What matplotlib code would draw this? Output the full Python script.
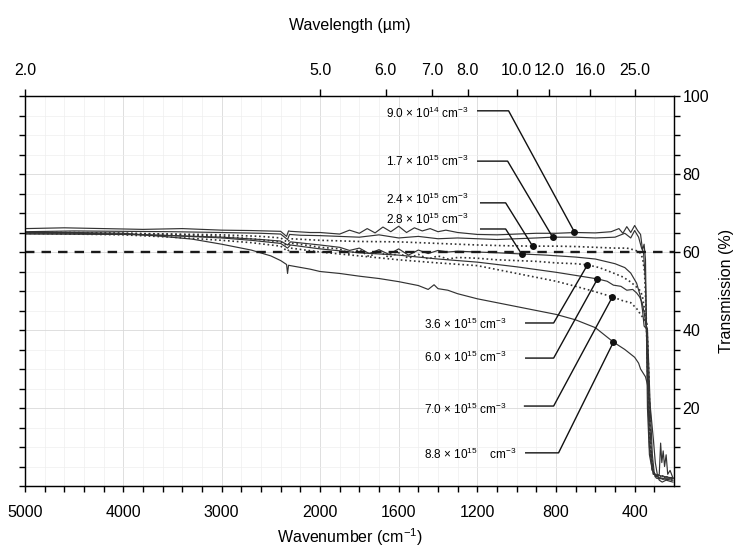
import numpy as np
import matplotlib
matplotlib.use("Agg")
import matplotlib.pyplot as plt

plt.rcParams['font.family'] = ['Liberation Sans', 'DejaVu Sans']
plt.rcParams['mathtext.fontset'] = 'custom'
plt.rcParams['mathtext.rm'] = 'Liberation Sans'
plt.rcParams['mathtext.it'] = 'Liberation Sans:italic'

# --- data (wavenumber cm-1, transmission %) ---
w_c1 = [5000, 4600, 4200, 3800, 3400, 3000, 2700, 2400, 2340, 2320, 2300, 2100, 2000, 1900, 1850, 1800,
        1760, 1720, 1680, 1640, 1600, 1560, 1520, 1480, 1440, 1400, 1360, 1300, 1200, 1100, 1000, 900,
        800, 700, 600, 520, 480, 460, 440, 420, 400, 385, 370, 360, 352, 345, 340, 335, 325, 310, 295,
        282, 275, 268, 262, 255, 248, 240, 232, 220, 205]
t_c1 = [66.0, 66.2, 66.0, 65.8, 66.0, 65.6, 65.5, 65.3, 64.0, 65.4, 65.3, 65.0, 65.0, 64.6, 65.6, 64.8,
        66.0, 64.9, 66.4, 65.2, 66.6, 65.0, 66.2, 65.4, 66.0, 65.2, 65.6, 65.0, 64.5, 64.4, 64.6, 64.8,
        64.8, 65.0, 64.9, 65.2, 66.0, 64.8, 66.5, 65.0, 66.8, 65.5, 64.5, 60.5, 62.0, 58.0, 40.0, 20.0,
        8.0, 4.0, 3.0, 2.5, 3.0, 11.0, 6.0, 9.0, 5.0, 8.0, 3.0, 4.0, 2.0]

w_c2 = [5000, 4500, 4000, 3500, 3000, 2600, 2400, 2330, 2310, 2200, 2000, 1800, 1700, 1600, 1500, 1400,
        1300, 1200, 1100, 1000, 900, 817, 700, 600, 500, 450, 420, 400, 380, 365, 355, 345, 335, 325,
        310, 290, 270, 250, 230, 205]
t_c2 = [65.2, 65.4, 65.3, 65.2, 65.0, 64.8, 64.6, 63.2, 64.5, 64.3, 64.2, 63.8, 64.4, 63.6, 64.0, 63.4,
        63.6, 63.4, 63.2, 63.4, 63.6, 63.8, 63.8, 63.6, 63.8, 64.8, 63.6, 65.5, 63.8, 61.0, 60.0, 52.0,
        28.0, 10.0, 4.0, 2.5, 2.0, 2.0, 2.0, 2.0]

w_c3 = [5000, 4000, 3500, 3000, 2600, 2400, 2330, 2300, 2000, 1800, 1600, 1400, 1200, 1050, 919, 800,
        700, 600, 500, 440, 400, 375, 360, 350, 342, 335, 325, 310, 290, 205]
t_c3 = [64.8, 64.8, 64.6, 64.4, 64.0, 63.6, 62.5, 63.4, 63.0, 62.7, 62.6, 62.2, 61.8, 61.6, 61.5, 61.5,
        61.4, 61.2, 61.0, 61.0, 60.5, 60.0, 58.5, 55.0, 45.0, 30.0, 12.0, 4.0, 2.0, 1.5]

w_c4 = [5000, 4000, 3500, 3000, 2600, 2400, 2330, 2300, 2000, 1900, 1850, 1800, 1750, 1700, 1650, 1600,
        1550, 1500, 1450, 1400, 1350, 1300, 1200, 1100, 975, 850, 700, 600, 500, 450, 420, 390, 370,
        360, 352, 345, 335, 320, 310, 300, 290, 205]
t_c4 = [64.6, 64.5, 64.2, 63.8, 63.2, 62.8, 61.8, 62.6, 61.8, 61.2, 60.4, 61.0, 59.6, 60.6, 59.4, 60.8,
        59.2, 60.5, 59.6, 60.4, 60.0, 60.2, 60.0, 59.8, 59.5, 59.2, 58.7, 58.2, 57.0, 56.0, 54.6, 52.0,
        48.5, 45.0, 41.0, 40.6, 40.2, 19.0, 8.0, 3.0, 2.0, 1.5]

w_c5 = [5000, 4500, 4000, 3500, 3000, 2700, 2400, 2330, 2300, 2100, 2000, 1900, 1850, 1800, 1750, 1700,
        1650, 1600, 1550, 1500, 1450, 1400, 1350, 1300, 1200, 1100, 1000, 900, 800, 700, 640, 580, 508,
        460, 420, 390, 370, 360, 352, 345, 338, 330, 320, 310, 300, 205]
t_c5 = [65.0, 65.0, 64.8, 64.5, 64.0, 63.4, 62.6, 61.6, 62.3, 61.6, 61.2, 60.8, 59.6, 60.6, 58.8, 60.2,
        58.6, 59.8, 58.4, 59.4, 58.2, 59.0, 58.2, 58.6, 58.4, 58.0, 57.8, 57.6, 57.2, 57.0, 56.7, 56.0,
        54.6, 53.6, 52.3, 51.0, 50.0, 48.5, 46.0, 43.0, 42.0, 30.0, 12.0, 5.0, 3.0, 2.0]

w_c6 = [5000, 4500, 4000, 3500, 3000, 2700, 2400, 2330, 2300, 2000, 1800, 1600, 1400, 1200, 1000, 900,
        800, 700, 589, 540, 508, 470, 440, 410, 390, 375, 362, 350, 340, 332, 325, 315, 305, 205]
t_c6 = [64.8, 64.8, 64.6, 64.2, 63.6, 63.0, 62.2, 61.0, 61.8, 60.8, 59.8, 59.2, 58.2, 57.4, 56.2, 55.5,
        54.8, 54.0, 53.1, 52.5, 51.5, 51.2, 50.2, 50.4, 49.5, 48.5, 47.0, 44.0, 40.0, 30.0, 18.0, 8.0,
        3.0, 2.0]

w_c7 = [5000, 4500, 4000, 3500, 3000, 2700, 2400, 2330, 2300, 2000, 1800, 1600, 1400, 1200, 1000, 900,
        800, 700, 600, 513, 460, 420, 390, 370, 355, 345, 340, 333, 325, 318, 310, 300, 205]
t_c7 = [64.8, 64.6, 64.4, 63.8, 63.0, 62.4, 61.5, 60.2, 61.0, 60.0, 59.0, 58.0, 57.2, 56.5, 54.5, 53.5,
        52.5, 51.2, 49.8, 48.5, 47.5, 47.0, 45.5, 44.0, 43.0, 42.0, 41.5, 35.0, 22.0, 10.0, 4.0, 2.5, 2.0]

w_c8 = [5000, 4500, 4000, 3600, 3300, 3000, 2700, 2500, 2400, 2340, 2330, 2320, 2300, 2100, 2000, 1900,
        1800, 1700, 1600, 1500, 1450, 1420, 1400, 1350, 1300, 1200, 1100, 1000, 900, 800, 700, 600,
        508, 450, 420, 400, 380, 370, 355, 345, 335, 320, 305, 295, 285, 275, 260, 240, 220, 205]
t_c8 = [65.0, 65.0, 64.8, 64.0, 63.3, 62.0, 60.5, 59.0, 57.8, 56.8, 54.5, 56.6, 56.5, 55.6, 55.0, 54.5,
        53.8, 53.2, 52.4, 51.4, 50.4, 51.6, 50.6, 50.2, 49.3, 48.0, 47.0, 46.0, 45.0, 44.0, 42.6, 40.6,
        36.9, 35.0, 33.8, 33.0, 31.5, 30.0, 28.8, 28.0, 26.0, 20.0, 12.0, 6.0, 3.0, 1.5, 1.0, 1.5, 1.2, 1.0]

curves = [(w_c1, t_c1), (w_c2, t_c2), (w_c3, t_c3), (w_c4, t_c4),
          (w_c5, t_c5), (w_c6, t_c6), (w_c7, t_c7), (w_c8, t_c8)]

labels = [r"9.0 $\times$ 10$^{14}$ cm$^{-3}$", r"1.7 $\times$ 10$^{15}$ cm$^{-3}$",
          r"2.4 $\times$ 10$^{15}$ cm$^{-3}$", r"2.8 $\times$ 10$^{15}$ cm$^{-3}$",
          r"3.6 $\times$ 10$^{15}$ cm$^{-3}$", r"6.0 $\times$ 10$^{15}$ cm$^{-3}$",
          r"7.0 $\times$ 10$^{15}$ cm$^{-3}$", r"8.8 $\times$ 10$^{15}$    cm$^{-3}$"]
# label text anchor (wn, %), elbow start wn, elbow end wn, elbow level, dot position
label_xy = [(1665, 95.6), (1665, 83.3), (1665, 73.6), (1665, 68.4),
            (1472, 41.5), (1472, 33.1), (1472, 19.7), (1472, 8.2)]
elbow_w0 = [1198, 1198, 1183, 1183, 954, 954, 960, 954]
elbow_w1 = [1041, 1046, 1056, 1056, 812, 812, 812, 787]
elbow_t = [96.2, 83.3, 72.6, 65.9, 41.8, 32.8, 20.5, 8.5]
dot_w = [706, 817, 919, 975, 640, 589, 513, 508]
dot_t = [65.1, 63.8, 61.5, 59.5, 56.7, 53.1, 48.5, 36.9]

wl_ticks = [2.0, 5.0, 6.0, 7.0, 8.0, 10.0, 12.0, 16.0, 25.0]
wn_major = [5000, 4000, 3000, 2000, 1600, 1200, 800, 400]
t_major = [0, 20, 40, 60, 80, 100]
t_labels = ['', '20', '40', '60', '80', '100']


# 2x expansion below 2000 cm-1 (chart paper scale); increasing in w so the
# usual set_xlim(5000, 200) inversion works
def fwd(w):
    w = np.asarray(w, dtype=float)
    return -np.where(w >= 2000, (5000 - w) / 1000.0, 3.0 + (2000 - w) / 500.0)


def inv(v):
    u = -np.asarray(v, dtype=float)
    return np.where(u <= 3, 5000 - 1000.0 * u, 2000 - 500.0 * (u - 3.0))


fig = plt.figure(figsize=(7.38, 5.52), dpi=100)
ax = fig.add_axes([25 / 738, 1 - 486 / 552, 649 / 738, 390 / 552])
ax.set_xscale('function', functions=(fwd, inv))
ax.set_xlim(5000, 200)
ax.set_ylim(0, 100)

ink = '#333333'
styles = ['-', '-', ':', '-', ':', '-', ':', '-']
for (w, t), ls in zip(curves, styles):
    ax.plot(w, t, color=ink, lw=0.85 if ls == '-' else 1.2, ls=ls, zorder=3)

ax.axhline(60, color='#1a1a1a', lw=1.7, ls=(0, (4, 3)), zorder=4)

for i in range(8):
    ax.text(label_xy[i][0], label_xy[i][1], labels[i], fontsize=8.5, ha='left', va='center', zorder=5)
    ax.plot([elbow_w0[i], elbow_w1[i], dot_w[i]], [elbow_t[i], elbow_t[i], dot_t[i]],
            color='#111111', lw=1.0, zorder=5)
    ax.plot(dot_w[i], dot_t[i], 'o', color='#111111', ms=4, zorder=6)

# bottom axis
ax.set_xticks(wn_major)
ax.set_xticklabels([str(v) for v in wn_major])
minor_w = list(range(4800, 2000, -200)) + list(range(1900, 200, -100))
ax.set_xticks(minor_w, minor=True)
ax.tick_params(axis='x', which='both', direction='out', length=4, width=1.0, pad=10, labelsize=11.5)
ax.set_xlabel('Wavenumber (cm$^{-1}$)', fontsize=11.5, labelpad=4)

# transmission axis on the right, ticks both sides
ax.set_yticks(t_major)
ax.set_yticklabels(t_labels)
ax.set_yticks(np.arange(0, 101, 5), minor=True)
ax.tick_params(axis='y', which='both', left=True, right=True, labelleft=False, labelright=True,
               direction='out', length=4, width=1.0, pad=2, labelsize=11.5)
ax.yaxis.set_label_position('right')
ax.set_ylabel('Transmission (%)', fontsize=11.5, labelpad=7)

ax.grid(which='major', color='#d9d9d9', lw=0.6, zorder=0)
ax.grid(which='minor', color='#eeeeee', lw=0.5, zorder=0)
for s in ax.spines.values():
    s.set_color('#222222')
    s.set_linewidth(1.0)

# wavelength axis on top
ax2 = ax.twiny()
ax2.set_xscale('function', functions=(fwd, inv))
ax2.set_xlim(5000, 200)
ax2.set_xticks([10000.0 / l for l in wl_ticks])
ax2.set_xticklabels(['%.1f' % l for l in wl_ticks])
ax2.tick_params(axis='x', direction='out', length=5, width=1.0, pad=8, labelsize=11.5)
ax2.set_xlabel('Wavelength (\u00b5m)', fontsize=11.5, labelpad=24)

fig.savefig('out.png', dpi=100)
